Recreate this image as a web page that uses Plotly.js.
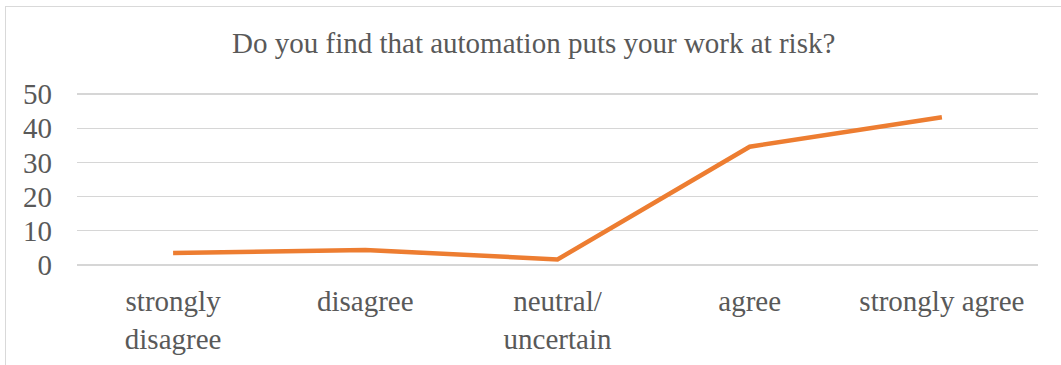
<!DOCTYPE html>
<html>
<head>
<meta charset="utf-8">
<script src="https://cdn.plot.ly/plotly-3.0.1.min.js"></script>
<style>
  html, body { margin: 0; padding: 0; background: #ffffff; }
  #wrap { position: relative; width: 1061px; height: 365px; overflow: hidden; }
  #chart { position: absolute; left: 0; top: 0; width: 1061px; height: 365px; }
  /* thin chart-area frame, open to the right and bottom */
  #frame { position: absolute; left: 5px; top: 6px; width: 1200px; height: 500px;
           border: 1px solid #d9d9d9; pointer-events: none; }
</style>
</head>
<body>
<div id="wrap">
  <div id="chart"></div>
  <div id="frame"></div>
</div>
<script>
// Survey answers and share of respondents
const categories = ["strongly<br>disagree", "disagree", "neutral/<br>uncertain", "agree", "strongly agree"];
const responses = [3.5, 4.4, 1.6, 34.6, 43.2];
const yTicks = [0, 10, 20, 30, 40, 50];

const textFont = { family: "'Liberation Serif', 'Times New Roman', serif", size: 29, color: "#595959" };

const trace = {
  type: "scatter",
  mode: "lines",
  x: categories,
  y: responses,
  line: { color: "#ED7D31", width: 4.5, shape: "linear" },
  hoverinfo: "x+y"
};

const layout = {
  width: 1061,
  height: 365,
  margin: { l: 77, r: 23, t: 92, b: 98, pad: 0 },
  paper_bgcolor: "#ffffff",
  plot_bgcolor: "#ffffff",
  showlegend: false,
  title: {
    text: "Do you find that automation puts your work at risk?",
    font: textFont,
    xref: "container",
    x: 0.503,
    yref: "container",
    y: 0.882,
    yanchor: "middle"
  },
  xaxis: {
    type: "category",
    range: [-0.5, 4.5],
    tickfont: textFont,
    showgrid: false,
    zeroline: false,
    showline: false,
    ticks: "",
    ticklabelstandoff: 14
  },
  yaxis: {
    // small padding keeps the 0 and 50 grid lines inside the plot area
    range: [-0.6, 50.6],
    tickvals: yTicks,
    ticktext: yTicks.map(String),
    tickfont: textFont,
    showgrid: true,
    gridcolor: "#d6d6d6",
    gridwidth: 1.4,
    zeroline: false,
    showline: false,
    ticks: "",
    ticklabelstandoff: 24
  }
};

Plotly.newPlot("chart", [trace], layout, { displayModeBar: false, staticPlot: true });
</script>
</body>
</html>
